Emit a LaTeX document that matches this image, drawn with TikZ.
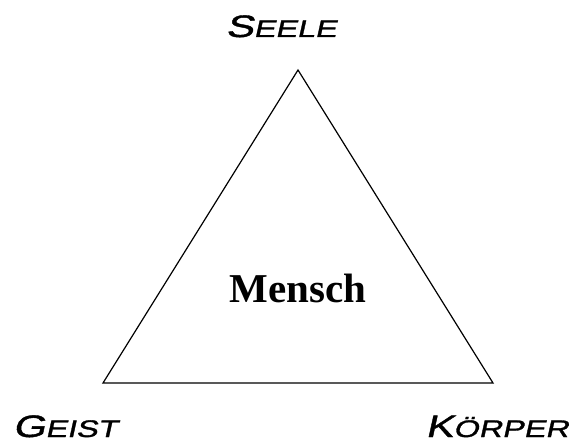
\documentclass[tikz,border=0pt]{standalone}
\usepackage{fontspec}
\setmainfont{Liberation Serif}
\newfontfamily\cornerfont[FakeStretch=1.35,FakeSlant=0.22,FakeBold=1.3]{Liberation Sans}
\newcommand{\capbig}[1]{{\fontsize{31}{36}\selectfont #1}}
\newcommand{\capsmall}[1]{{\fontsize{24}{28}\selectfont #1}}
\usetikzlibrary{positioning}

\begin{document}
\begin{tikzpicture}[
  x=1pt, y=1pt,
  corner/.style={anchor=base, inner sep=0pt, font=\cornerfont},
  centre/.style={anchor=base, inner sep=0pt, font=\fontsize{41}{48}\selectfont\bfseries},
  edge/.style={line width=1.2pt, line join=miter}
]
\useasboundingbox (0,0) rectangle (577,441);

\coordinate (top) at (298,371);
\coordinate (left) at (103,58);
\coordinate (right) at (493,58);

\draw[edge] (top) -- (left) -- (right) -- cycle;

\node[corner] (seele) at (281,404) {\capbig{S}\capsmall{EELE}};
\node[corner] (geist) at (65,4) {\capbig{G}\capsmall{EIST}};
\node[corner] (koerper) at (497,4) {\capbig{K}\capsmall{ÖRPER}};
\node[centre] (mensch) at (298,138) {Mensch};
\end{tikzpicture}
\end{document}
